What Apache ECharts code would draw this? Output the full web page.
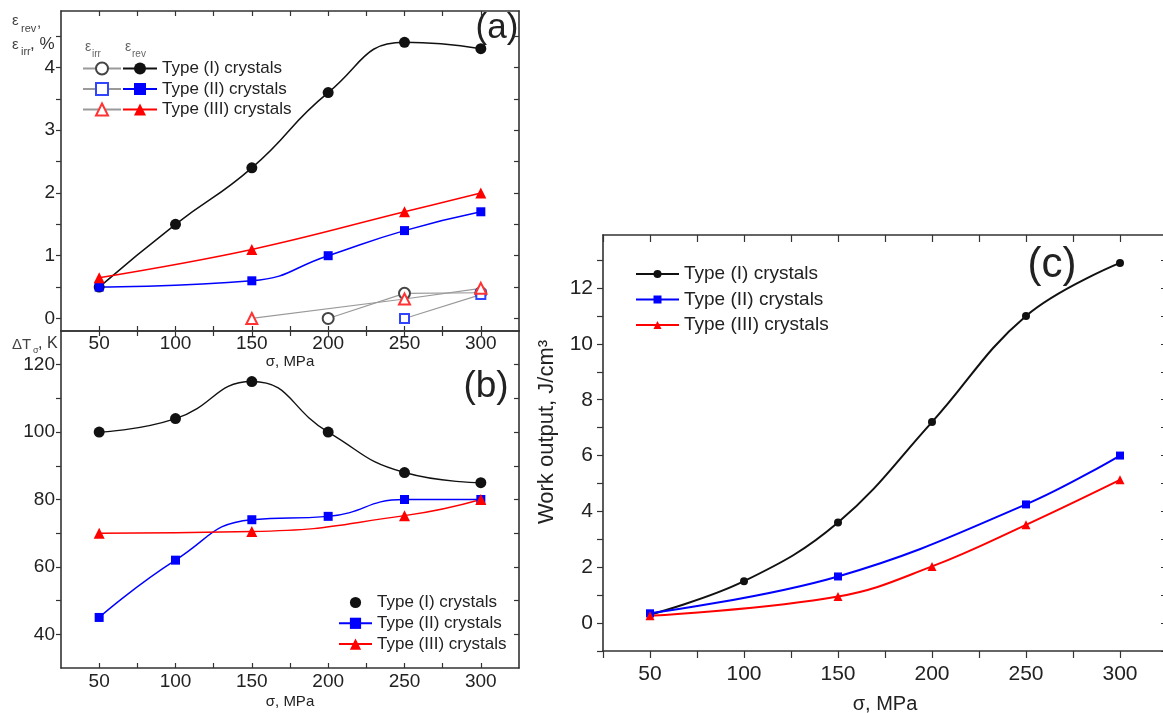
<!DOCTYPE html>
<html><head><meta charset="utf-8">
<script src="https://cdn.jsdelivr.net/npm/echarts@6/dist/echarts.min.js"></script>
<style>html,body{margin:0;padding:0;background:#fff}#chart{width:1163px;height:713px}</style>
</head><body><div id="chart"></div>
<script>
// ---------- data ----------
const sigmaLabels = [50, 100, 150, 200, 250, 300];
const sigmaTicks = [50, 75, 100, 125, 150, 175, 200, 225, 250, 275, 300];
const sigmaTicksC = [25, 50, 75, 100, 125, 150, 175, 200, 225, 250, 275, 300];
const legendNames = ['Type (I) crystals', 'Type (II) crystals', 'Type (III) crystals'];

// panel (a): reversible / irreversible strain, %
const aRevI_x = [50, 100, 150, 200, 250, 300];
const aRevI_y = [0.5, 1.5, 2.4, 3.6, 4.4, 4.3];
const aRevII_x = [50, 150, 200, 250, 300];
const aRevII_y = [0.5, 0.6, 1.0, 1.4, 1.7];
const aRevIII_x = [50, 150, 250, 300];
const aRevIII_y = [0.65, 1.1, 1.7, 2.0];
const aIrrI_x = [200, 250, 300];
const aIrrI_y = [0.0, 0.4, 0.41];
const aIrrII_x = [250, 300];
const aIrrII_y = [0.0, 0.38];
const aIrrIII_x = [150, 250, 300];
const aIrrIII_y = [0.0, 0.31, 0.48];
const aYLabels = [0, 1, 2, 3, 4];
const aYTicks = [0, 0.5, 1, 1.5, 2, 2.5, 3, 3.5, 4, 4.5];

// panel (b): ΔTσ, K
const bI_x = [50, 100, 150, 200, 250, 300];
const bI_y = [100, 104, 115, 100, 88, 85];
const bII_x = [50, 100, 150, 200, 250, 300];
const bII_y = [45, 62, 74, 75, 80, 80];
const bIII_x = [50, 150, 250, 300];
const bIII_y = [70, 70.5, 75.2, 80];
const bYLabels = [40, 60, 80, 100, 120];
const bYTicks = [40, 50, 60, 70, 80, 90, 100, 110, 120];

// panel (c): work output, J/cm3
const cI_x = [50, 100, 150, 200, 250, 300];
const cI_y = [0.3, 1.5, 3.6, 7.2, 11.0, 12.9];
const cII_x = [50, 150, 250, 300];
const cII_y = [0.35, 1.67, 4.25, 6.0];
const cIII_x = [50, 150, 200, 250, 300];
const cIII_y = [0.26, 0.95, 2.03, 3.52, 5.13];
const cYLabels = [0, 2, 4, 6, 8, 10, 12];
const cYTicks = [-1, 0, 1, 2, 3, 4, 5, 6, 7, 8, 9, 10, 11, 12, 13];

// ---------- helpers ----------
const FONT = '"Liberation Sans", Arial, sans-serif';
const TXT = '#222';
const AX = '#333';
const BLACK = '#111', BLUE = '#0000ff', RED = '#ff0000', GRAY = '#9a9a9a';
const pairs = (xs, ys) => xs.map((x, i) => [x, ys[i]]);

function axis(o) {
  return {
    type: 'value', gridIndex: o.grid, position: o.pos, min: o.min, max: o.max,
    name: o.name || '', nameLocation: 'middle', nameGap: o.nameGap || 0,
    nameTextStyle: {fontSize: o.nameSize || 15, color: TXT, fontFamily: FONT},
    axisLine: {show: true, onZero: false, lineStyle: {color: AX, width: 1.6}},
    axisTick: {show: true, inside: !!o.inside, length: o.tickLen || 5, customValues: o.ticks,
               lineStyle: {color: AX, width: 1.2}},
    axisLabel: {show: !!o.labels, customValues: o.labels || [], fontSize: o.fs || 19,
                color: TXT, fontFamily: FONT, margin: o.margin || 6},
    splitLine: {show: false}, minorTick: {show: false}
  };
}

function line(name, xs, ys, xi, yi, color, symbol, size, width, smooth, extra) {
  return Object.assign({
    type: 'line', name, xAxisIndex: xi, yAxisIndex: yi, data: pairs(xs, ys),
    smooth: smooth, symbol, symbolSize: size, showSymbol: true,
    lineStyle: {color, width}, itemStyle: {color},
    emphasis: {disabled: true}, animation: false
  }, extra || {});
}

const nameMap = {
  aI: legendNames[0], aII: legendNames[1], aIII: legendNames[2],
  bI: legendNames[0], bII: legendNames[1], bIII: legendNames[2],
  cI: legendNames[0], cII: legendNames[1], cIII: legendNames[2]
};

const txt = (text, x, y, size, opts) => Object.assign({
  type: 'text', x, y, silent: true,
  style: Object.assign({text, fontSize: size, fontFamily: FONT, fill: TXT,
          align: 'left', textAlign: 'left', verticalAlign: 'top', textVerticalAlign: 'top'}, (opts && opts.style) || {})
}, (opts && opts.el) || {});

const chart = echarts.init(document.getElementById('chart'), null, {renderer: 'canvas'});
chart.setOption({
  animation: false,
  backgroundColor: '#fff',
  textStyle: {fontFamily: FONT},
  grid: [
    {left: 61, top: 11, width: 458, height: 320, outerBoundsMode: 'none', containLabel: false},
    {left: 61, top: 331, width: 458, height: 337, outerBoundsMode: 'none', containLabel: false},
    {left: 603, top: 235, width: 564, height: 416, outerBoundsMode: 'none', containLabel: false}
  ],
  xAxis: [
    axis({grid: 0, pos: 'bottom', min: 25, max: 325, labels: sigmaLabels, ticks: sigmaTicks, inside: true,
          margin: 3, name: 'σ, MPa', nameGap: 22, nameSize: 15}),
    axis({grid: 0, pos: 'top', min: 25, max: 325, ticks: sigmaTicks, inside: true}),
    axis({grid: 1, pos: 'bottom', min: 25, max: 325, labels: sigmaLabels, ticks: sigmaTicks, inside: true,
          margin: 4, name: 'σ, MPa', nameGap: 26, nameSize: 15}),
    axis({grid: 1, pos: 'top', min: 25, max: 325, ticks: sigmaTicks, inside: true}),
    axis({grid: 2, pos: 'bottom', min: 25, max: 325, labels: sigmaLabels, ticks: sigmaTicksC, inside: false,
          tickLen: 7, margin: 13, fs: 21, name: 'σ, MPa', nameGap: 43, nameSize: 20}),
    axis({grid: 2, pos: 'top', min: 25, max: 325, ticks: sigmaTicksC, inside: true, tickLen: 7})
  ],
  yAxis: [
    axis({grid: 0, pos: 'left', min: -0.2, max: 4.9, labels: aYLabels, ticks: aYTicks, inside: false, margin: 6}),
    axis({grid: 0, pos: 'right', min: -0.2, max: 4.9, ticks: aYTicks, inside: true}),
    axis({grid: 1, pos: 'left', min: 30, max: 130, labels: bYLabels, ticks: bYTicks, inside: false, margin: 6}),
    axis({grid: 1, pos: 'right', min: 30, max: 130, ticks: bYTicks, inside: true}),
    axis({grid: 2, pos: 'left', min: -1, max: 13.9, labels: cYLabels, ticks: cYTicks, inside: false,
          tickLen: 6, margin: 10, fs: 21}),
    axis({grid: 2, pos: 'right', min: -1, max: 13.9, ticks: cYTicks, inside: true, tickLen: 6})
  ],
  legend: [
    {orient: 'vertical', left: 77, top: 55, itemWidth: 38, itemHeight: 15, itemGap: 3.5,
     selectedMode: false, data: ['aIrrI', 'aIrrII', 'aIrrIII'], formatter: () => ' ',
     textStyle: {fontSize: 17, color: TXT, fontFamily: FONT}},
    {orient: 'vertical', left: 117, top: 55, itemWidth: 34, itemHeight: 15, itemGap: 3.5,
     selectedMode: false, data: ['aI', 'aII', 'aIII'], formatter: n => nameMap[n],
     textStyle: {fontSize: 17, color: TXT, fontFamily: FONT}},
    {orient: 'vertical', left: 333, top: 589, itemWidth: 33, itemHeight: 14, itemGap: 3.8,
     selectedMode: false,
     data: [{name: 'bI', lineStyle: {width: 0, color: 'rgba(0,0,0,0)', opacity: 0}}, 'bII', 'bIII'],
     formatter: n => nameMap[n], textStyle: {fontSize: 17, color: TXT, fontFamily: FONT}},
    {orient: 'vertical', left: 630, top: 259.5, itemWidth: 43, itemHeight: 10, itemGap: 6.5,
     selectedMode: false, data: ['cI', 'cII', 'cIII'], formatter: n => nameMap[n],
     textStyle: {fontSize: 19, color: TXT, fontFamily: FONT}}
  ],
  series: [
    // panel (a) irreversible (open symbols, gray lines)
    line('aIrrI', aIrrI_x, aIrrI_y, 0, 0, '#333', 'emptyCircle', 11, 1.2, false,
         {lineStyle: {color: GRAY, width: 1.2}, itemStyle: {color: '#444', borderWidth: 1.3}}),
    line('aIrrII', aIrrII_x, aIrrII_y, 0, 0, BLUE, 'emptyRect', 9, 1.2, false,
         {lineStyle: {color: GRAY, width: 1.2}, itemStyle: {color: '#3344ff', borderWidth: 1.3}}),
    line('aIrrIII', aIrrIII_x, aIrrIII_y, 0, 0, RED, 'emptyTriangle', 11, 1.2, false,
         {lineStyle: {color: GRAY, width: 1.2}, itemStyle: {color: '#ff3333', borderWidth: 1.3}}),
    // panel (a) reversible
    line('aI', aRevI_x, aRevI_y, 0, 0, BLACK, 'circle', 11, 1.5, 0.5),
    line('aII', aRevII_x, aRevII_y, 0, 0, BLUE, 'rect', 9, 1.5, 0.5),
    line('aIII', aRevIII_x, aRevIII_y, 0, 0, RED, 'triangle', 11, 1.5, 0.4),
    // panel (b)
    line('bI', bI_x, bI_y, 2, 2, BLACK, 'circle', 11, 1.4, 0.5),
    line('bII', bII_x, bII_y, 2, 2, BLUE, 'rect', 9, 1.4, 0.5),
    line('bIII', bIII_x, bIII_y, 2, 2, RED, 'triangle', 11, 1.4, 0.5),
    // panel (c)
    line('cI', cI_x, cI_y, 4, 4, BLACK, 'circle', 8, 2, 0.4),
    line('cII', cII_x, cII_y, 4, 4, BLUE, 'rect', 8, 2, 0.4),
    line('cIII', cIII_x, cIII_y, 4, 4, RED, 'triangle', 9, 2, 0.4)
  ],
  graphic: [
    // panel (a) y title
    txt('ε', 12, 13, 15, {style: {fill: '#444'}}),
    txt('rev', 21, 23, 11, {style: {fill: '#444'}}),
    txt(',', 37, 15, 15, {style: {fill: '#444'}}),
    txt('ε', 12, 37, 15, {style: {fill: '#444'}}),
    txt('irr', 21, 46, 11, {style: {fill: '#444'}}),
    txt(', %', 30, 36, 17, {style: {fill: '#333'}}),
    // legend headers
    txt('ε', 85, 40, 14, {style: {fill: '#666'}}),
    txt('irr', 92, 49, 10, {style: {fill: '#666'}}),
    txt('ε', 125, 40, 14, {style: {fill: '#666'}}),
    txt('rev', 132, 49, 10, {style: {fill: '#666'}}),
    // panel (b) y title
    txt('ΔT', 12, 337, 15, {style: {fill: '#444'}}),
    txt('σ', 33, 346, 9, {style: {fill: '#444'}}),
    txt(', K', 38, 336, 16, {style: {fill: '#333'}}),
    // panel (c) y title
    txt('Work output, J/cm³', 547, 432, 22,
        {style: {align: 'center', textAlign: 'center', verticalAlign: 'middle', textVerticalAlign: 'middle'},
         el: {rotation: Math.PI / 2}}),
    // panel letters
    txt('(a)', 497, 28, 35, {style: {align: 'center', textAlign: 'center', verticalAlign: 'middle', textVerticalAlign: 'middle'}}),
    txt('(b)', 486, 387, 37, {style: {align: 'center', textAlign: 'center', verticalAlign: 'middle', textVerticalAlign: 'middle'}}),
    txt('(c)', 1052, 265, 42, {style: {align: 'center', textAlign: 'center', verticalAlign: 'middle', textVerticalAlign: 'middle'}})
  ]
});
</script></body></html>
